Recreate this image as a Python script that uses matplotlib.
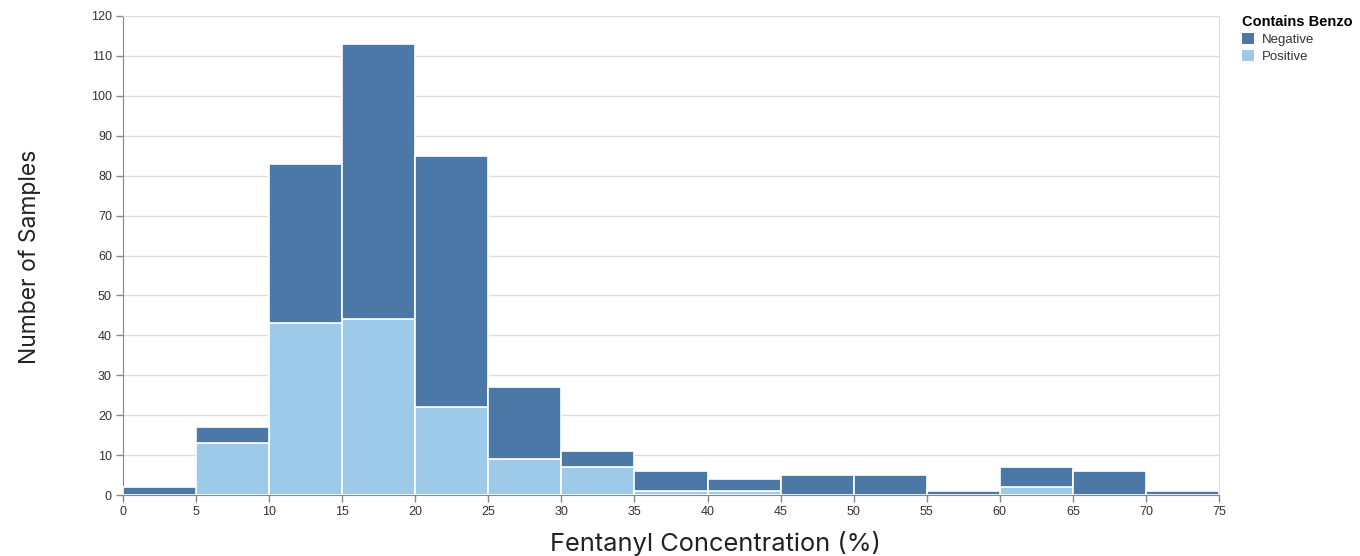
import numpy as np
import matplotlib
matplotlib.use("Agg")
from matplotlib import pyplot as plt
from matplotlib.patches import Patch

bin_edges = np.arange(0, 80, 5)
total = [2, 17, 83, 113, 85, 27, 11, 6, 4, 5, 5, 1, 7, 6, 1]
positive = [0, 13, 43, 44, 22, 9, 7, 1, 1, 0, 0, 0, 2, 0, 0]
negative = [t - p for t, p in zip(total, positive)]
x_ticks = list(range(0, 80, 5))
y_ticks = list(range(0, 130, 10))

c_neg = "#4c78a8"
c_pos = "#9ecae9"

plt.rcParams['font.family'] = ['Liberation Sans', 'DejaVu Sans']
fig = plt.figure(figsize=(13.6, 5.56), dpi=100)
ax = fig.add_axes([123 / 1360, 61 / 556, 1096 / 1360, 479 / 556])

left = bin_edges[:-1]
ax.bar(left, positive, width=5, align='edge', color=c_pos, edgecolor='white', linewidth=1.2, zorder=3)
ax.bar(left, negative, width=5, bottom=positive, align='edge', color=c_neg, edgecolor='white', linewidth=1.2, zorder=3)

ax.set_xlim(0, 75)
ax.set_ylim(0, 120)
ax.set_xticks(x_ticks)
ax.set_yticks(y_ticks)
ax.tick_params(labelsize=9, colors='#888888', labelcolor='#333333', length=5, width=1, pad=3)
ax.grid(axis='y', color='#dddddd', linewidth=1, zorder=0)
for s in ['top', 'right']:
    ax.spines[s].set_color('#dddddd')
for s in ['left', 'bottom']:
    ax.spines[s].set_color('#888888')

lab_font = ['Inter', 'DejaVu Sans']
fig.text(715 / 1360, 1 - 543 / 556, "Fentanyl Concentration (%)", fontsize=18.3, family=lab_font,
         color='#222222', ha='center', va='center')
fig.text(30 / 1360, 1 - 257 / 556, "Number of Samples", rotation=90, fontsize=16.5, family=lab_font,
         color='#222222', ha='center', va='center')

handles = [Patch(facecolor=c_neg, edgecolor='none'), Patch(facecolor=c_pos, edgecolor='none')]
leg = fig.legend(handles, ["Negative", "Positive"], title="Contains Benzo", loc='upper left',
                 bbox_to_anchor=(1242 / 1360, 1 - 15 / 556), frameon=False, fontsize=9.5,
                 title_fontsize=10.5, handlelength=0.9, handleheight=0.9, handletextpad=0.6,
                 labelspacing=0.3, borderaxespad=0, borderpad=0)
leg.get_title().set_fontweight('bold')
leg._legend_box.align = "left"
for t in leg.get_texts():
    t.set_color('#333333')

fig.savefig("out.png", dpi=100)
